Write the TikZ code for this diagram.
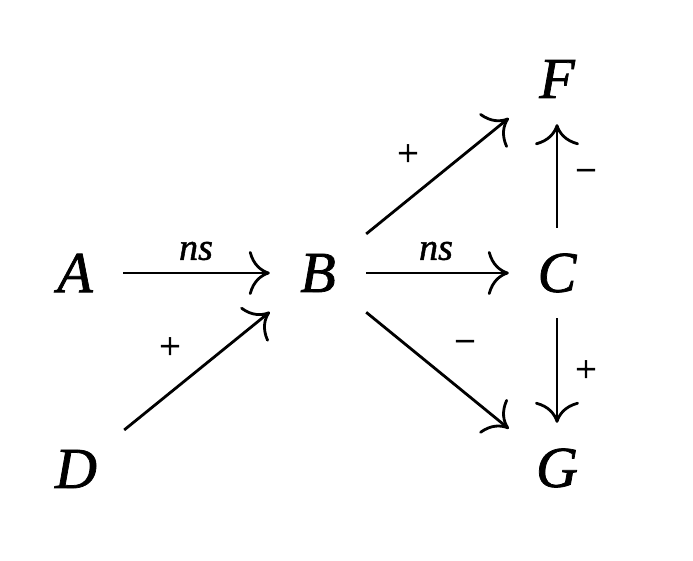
\documentclass[tikz,border=0pt]{standalone}
\usepackage{fontspec}
\setmainfont{Liberation Serif}
\newfontfamily\cdfont[FakeBold=1.3]{Liberation Serif}
\usetikzlibrary{arrows.meta}
\begin{document}
\begin{tikzpicture}[x=1pt,y=-1pt,
  obj/.style={inner sep=0pt, minimum width=96pt, minimum height=90pt,
    font=\cdfont\fontsize{58}{60}\selectfont\itshape},
  lab/.style={inner sep=0pt, font=\cdfont\fontsize{38}{40}\selectfont},
  lbl/.style={inner sep=0pt, font=\cdfont\fontsize{38}{40}\selectfont\itshape},
  cdarrow/.style={line width=2.8pt,
    -{Computer Modern Rightarrow[length=21pt,width=44pt,line width=2.8pt]}}]
\useasboundingbox (0,0) rectangle (693,560);
\fill[white] (0,0) rectangle (693,560);
\node[obj] (A) at (75,273) {A};
\node[obj] (B) at (318,273) {B};
\node[obj] (C) at (557,273) {C};
\node[obj] (F) at (557,79) {F};
\node[obj] (D) at (76,469) {D};
\node[obj] (G) at (557,468) {G};
\draw[cdarrow] (A) -- (B);
\draw[cdarrow] (B) -- (C);
\draw[cdarrow] (B) -- (F);
\draw[cdarrow] (D) -- (B);
\draw[cdarrow] (B) -- (G);
\draw[cdarrow] (C) -- (F);
\draw[cdarrow] (C) -- (G);
\node[lbl] (lab1) at (196,251) {ns};
\node[lbl] (lab2) at (436,251) {ns};
\node[lab] (lab3) at (408,155) {+};
\node[lab] (lab4) at (170,348) {+};
\node[lab] (lab5) at (465,347) {−};
\node[lab] (lab6) at (586,176) {−};
\node[lab] (lab7) at (586,371) {+};
\end{tikzpicture}
\end{document}
